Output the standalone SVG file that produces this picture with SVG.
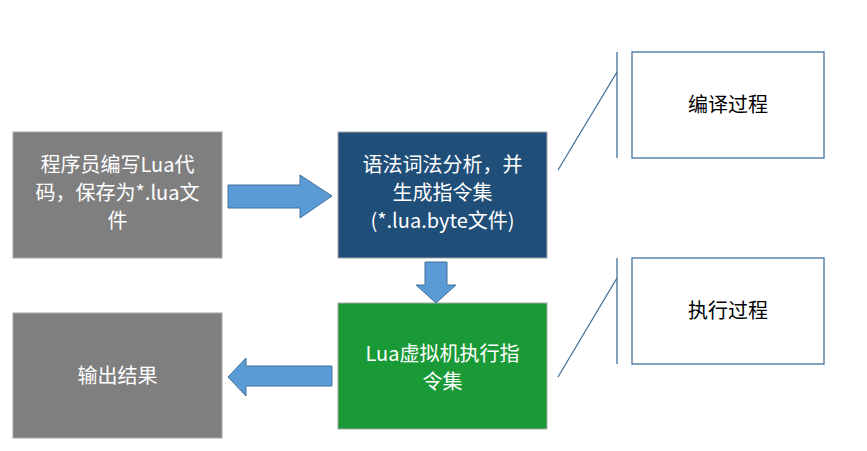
<svg xmlns="http://www.w3.org/2000/svg" width="867" height="451" viewBox="0 0 867 451">
<style>
text{font-family:"Microsoft YaHei","Noto Sans CJK SC",sans-serif;font-size:20px;text-anchor:middle}
.w{fill:#fff}.k{fill:#000}
.ar{fill:#5b9bd5;stroke:#41719c;stroke-width:1}
.co{fill:#fff;stroke:#41719c;stroke-width:1.3}
.ln{fill:none;stroke:#41719c;stroke-width:1.3}
</style>
<rect width="867" height="451" fill="#fff"/>
<g id="write"><rect x="13" y="132" width="209" height="126" fill="#7f7f7f" stroke="#a6a6a6"/>
<text class="w" x="117.5" y="172">程序员编写Lua代</text><text class="w" x="117.5" y="200">码，保存为*.lua文</text><text class="w" x="117.5" y="228">件</text></g>
<g id="compile"><rect x="338" y="132" width="209" height="126" fill="#1f4e79" stroke="#a6a6a6"/>
<text class="w" x="442.5" y="172">语法词法分析，并</text><text class="w" x="442.5" y="200">生成指令集</text><text class="w" x="442.5" y="228">(*.lua.byte文件)</text></g>
<g id="vm"><rect x="338" y="303" width="209" height="126" fill="#1a9a36" stroke="#a6a6a6"/>
<text class="w" x="442.5" y="361">Lua虚拟机执行指</text><text class="w" x="442.5" y="389">令集</text></g>
<g id="output"><rect x="13" y="313" width="209" height="125" fill="#7f7f7f" stroke="#a6a6a6"/>
<text class="w" x="117.5" y="383">输出结果</text></g>
<g id="note1"><rect class="co" x="632" y="52" width="192" height="106"/><text class="k" x="728" y="112">编译过程</text></g>
<g id="note2"><rect class="co" x="632" y="258" width="192" height="106"/><text class="k" x="728" y="318">执行过程</text></g>
<g id="connectors">
<polygon class="ar" points="228,185 300,185 300,175 332,196 300,218 300,208 228,208"/>
<polygon class="ar" points="425,262 447,262 447,285 456,285 436,303 416,285 425,285"/>
<polygon class="ar" points="332,366 246,366 246,358 228,377 246,396 246,386 332,386"/>
<path class="ln" d="M617,52V158M617,72L558,170M617,258V364M617,278L558,377"/>
</g>
</svg>
